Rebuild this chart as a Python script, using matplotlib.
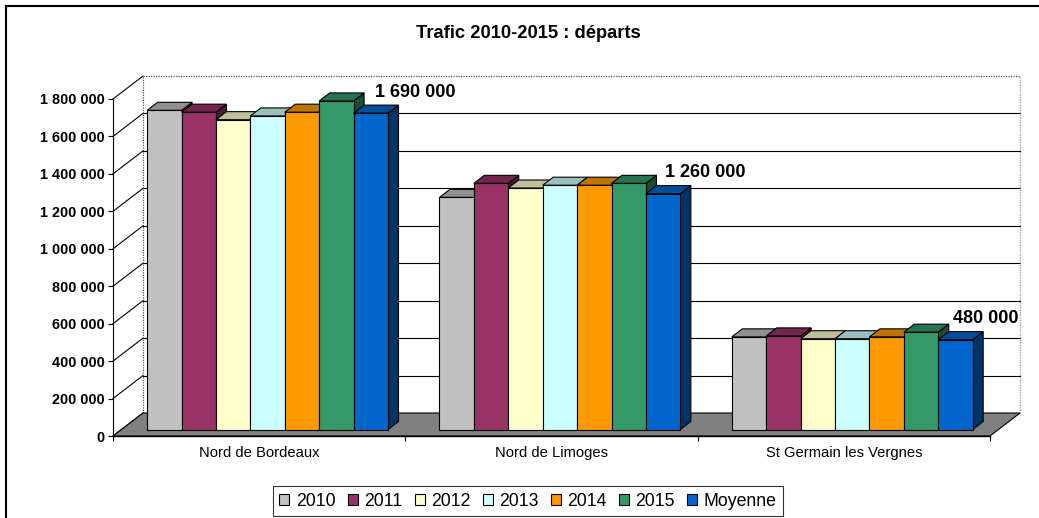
import numpy as np
import matplotlib.pyplot as plt
from matplotlib.patches import Polygon, Rectangle, Patch

plt.rcParams['font.family'] = ['Liberation Sans', 'DejaVu Sans']

# data
sites = ['Nord de Bordeaux', 'Nord de Limoges', 'St Germain les Vergnes']
series = ['2010', '2011', '2012', '2013', '2014', '2015', 'Moyenne']
v2010 = [1705000, 1240000, 495000]
v2011 = [1695000, 1315000, 500000]
v2012 = [1655000, 1290000, 485000]
v2013 = [1675000, 1305000, 485000]
v2014 = [1695000, 1305000, 495000]
v2015 = [1755000, 1315000, 520000]
moyenne = [1690000, 1260000, 480000]
values = [v2010, v2011, v2012, v2013, v2014, v2015, moyenne]
colors = ['#C0C0C0', '#993366', '#FFFFCC', '#CCFFFF', '#FF9900', '#339966', '#0066CC']
yticks = np.arange(0, 1800001, 200000)


def fmt(v):
    return f"{int(v):,}".replace(",", " ")


def shade(c, k):
    r, g, b = plt.matplotlib.colors.to_rgb(c)
    return (r * k, g * k, b * k)


W, H = 1039, 518
fig = plt.figure(figsize=(W / 100, H / 100), dpi=100)
ax = fig.add_axes([113 / W, 82 / H, 877 / W, 337 / H])
ax.set_facecolor('none')
ax.set_xlim(-0.5, 2.5)
ax.set_ylim(0, 1800000)

# depth of the 3d box, in data units
dx = 30 / 877 * 3
dy = 23 / 337 * 1800000
x_left, x_right = -0.5, 2.5
ymax = 1800000

# walls and grid
for v in yticks:
    ax.plot([x_left, x_left + dx], [v, v + dy], color='black', lw=0.8, clip_on=False, zorder=1)
    if 0 < v < ymax:
        ax.plot([x_left + dx, x_right + dx], [v + dy, v + dy], color='black', lw=0.8,
                clip_on=False, zorder=1)
ax.plot([x_left + dx, x_right + dx], [ymax + dy, ymax + dy], color='#555555', lw=0.9,
        ls=(0, (1, 1)), clip_on=False, zorder=1)
ax.plot([x_left + dx, x_left + dx], [dy, ymax + dy], color='#555555', lw=0.9,
        ls=(0, (1, 1)), clip_on=False, zorder=1)
ax.plot([x_right + dx, x_right + dx], [dy, ymax + dy], color='#999999', lw=0.9,
        ls=(0, (1, 1)), clip_on=False, zorder=1)

# floor
floor = Polygon([(x_left, 0), (x_right, 0), (x_right + dx, dy), (x_left + dx, dy)],
                closed=True, fc='#808080', ec='black', lw=0.8, clip_on=False, zorder=2)
ax.add_patch(floor)

# bars
f = 0.28
d = 0.35
cw = 0.824
bw = cw / len(series)
z = 3
for i in range(len(sites)):
    for j, vals in enumerate(values):
        v = vals[i]
        x0 = i - cw / 2 + j * bw + f * dx
        y0 = f * dy
        x1 = x0 + bw
        ex, ey = d * dx, d * dy
        side = Polygon([(x1, y0), (x1 + ex, y0 + ey), (x1 + ex, v + y0 + ey), (x1, v + y0)],
                       closed=True, fc=shade(colors[j], 0.5), ec='black', lw=0.8,
                       clip_on=False, zorder=z)
        top = Polygon([(x0, v + y0), (x1, v + y0), (x1 + ex, v + y0 + ey), (x0 + ex, v + y0 + ey)],
                      closed=True, fc=shade(colors[j], 0.75), ec='black', lw=0.8,
                      clip_on=False, zorder=z)
        front = Rectangle((x0, y0), bw, v, fc=colors[j], ec='black', lw=0.8,
                          clip_on=False, zorder=z + 0.5)
        ax.add_patch(side)
        ax.add_patch(top)
        ax.add_patch(front)
        z += 1

# labels on the average bars
label_dx = [32, 30, 22]
for i in range(len(sites)):
    v = moyenne[i]
    xc = i - cw / 2 + 6.5 * bw + f * dx
    ax.annotate(fmt(v), (xc, v + f * dy), xytext=(label_dx[i], 15), textcoords='offset points',
                ha='center', va='center', fontsize=13, fontweight='bold', zorder=50,
                annotation_clip=False)

# axes
ax.set_yticks(yticks, labels=[fmt(v) for v in yticks], fontsize=10.4, fontweight='bold')
ax.tick_params(axis='y', direction='out', length=3.6, width=0.8, pad=2.5)
ax.set_xticks([-0.5, 0.5, 1.5, 2.5], labels=[])
ax.set_xticks([0, 1, 2], labels=sites, minor=True, fontsize=10.6)
ax.tick_params(axis='x', which='major', direction='out', length=3.6, width=0.8)
ax.tick_params(axis='x', which='minor', length=0, pad=7.5)
for s in ['top', 'right']:
    ax.spines[s].set_visible(False)
ax.spines['left'].set_linewidth(0.8)
ax.spines['bottom'].set_linewidth(1.0)
ax.spines['left'].set_zorder(60)
ax.spines['bottom'].set_zorder(60)

fig.text(528 / W, 1 - 34 / H, 'Trafic 2010-2015 : départs', ha='center', va='center',
         fontsize=13.2, fontweight='bold')

handles = [Patch(fc=c, ec='black', lw=0.8) for c in colors]
leg = fig.legend(handles, series, loc='center', bbox_to_anchor=(528 / W, 17 / H), ncol=7,
                 fontsize=12.7, frameon=True, fancybox=False, edgecolor='black',
                 handlelength=0.56, handleheight=0.56, handletextpad=0.36,
                 columnspacing=0.71, borderpad=0.35, borderaxespad=0)
leg.get_frame().set_linewidth(0.8)

fig.add_artist(Rectangle((6 / W, -0.1), 1.2, 1 - 6 / H + 0.1, transform=fig.transFigure,
                         fill=False, ec='black', lw=1.5))

fig.savefig('out.png', dpi=100)
